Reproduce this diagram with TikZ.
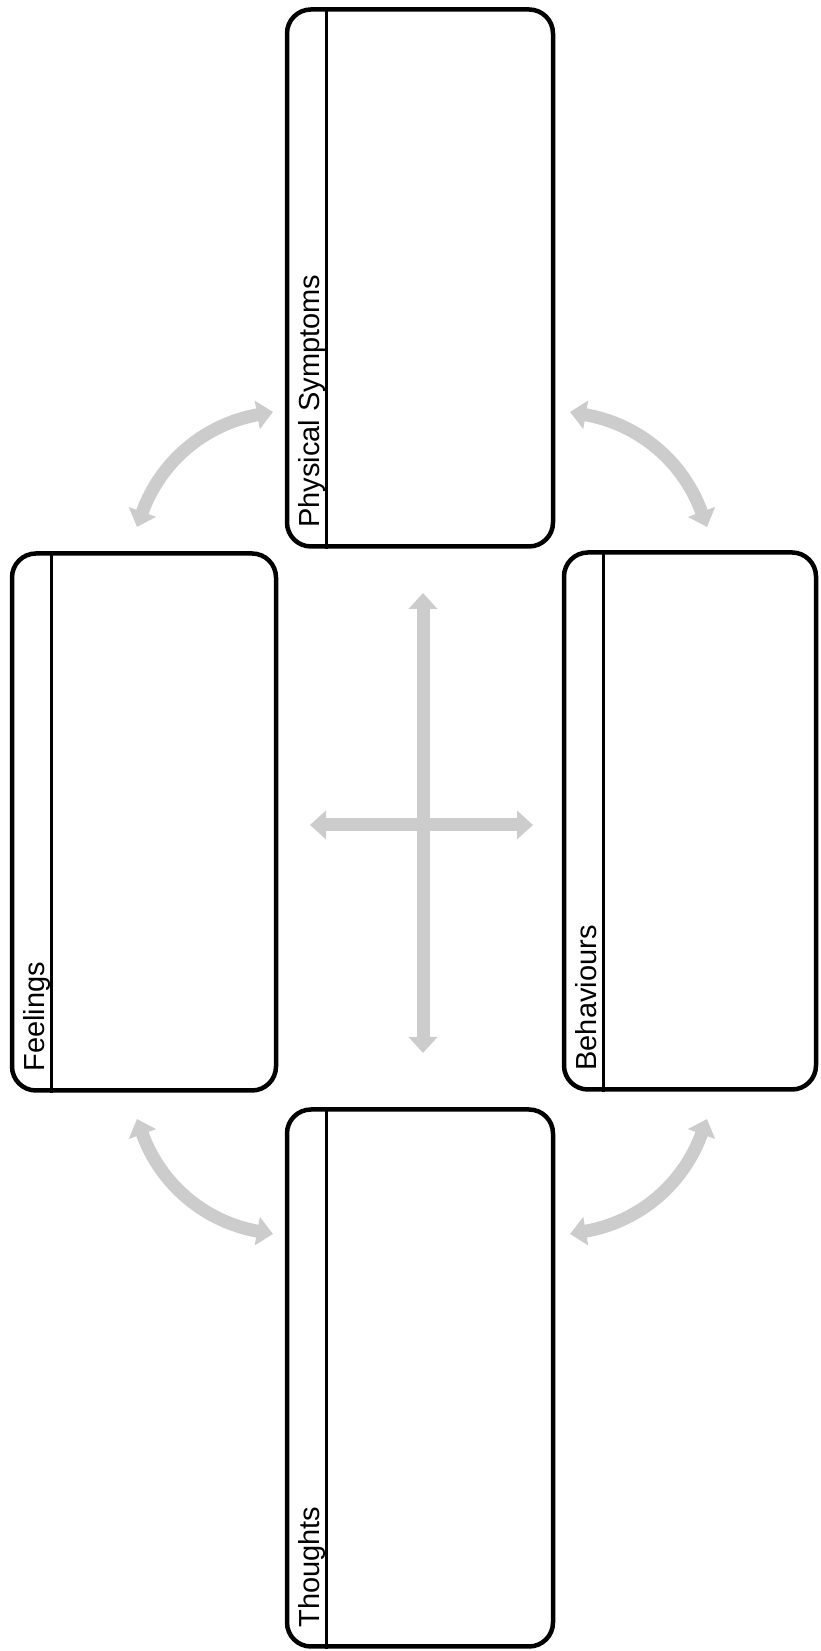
\documentclass[tikz,border=0pt]{standalone}
\usepackage{fontspec}
\setmainfont{Liberation Sans}
\usetikzlibrary{positioning,arrows.meta,calc}

\begin{document}
\begin{tikzpicture}[
  x=1pt, y=1pt,
  card/.style={draw, line width=4.5pt, rounded corners=24pt, minimum width=266pt, minimum height=537pt, inner sep=0pt},
  strip/.style={line width=3pt},
  heading/.style={rotate=90, anchor=base west, inner sep=0pt, font=\fontsize{29}{35}\selectfont},
  flow/.style={draw=gray!40, line width=13pt, {Triangle[width=28pt,length=16pt]}-{Triangle[width=28pt,length=16pt]}}
]
\useasboundingbox (0,0) rectangle (820,1651);

% the four boxes
\node[card] (phys) at (420,1373) {};
\node[card, minimum width=264pt] (feel) at (144,829) {};
\node[card, minimum width=252pt] (behav) at (690,830) {};
\node[card] (thought) at (420,273) {};

% title strips
\foreach \b in {phys,feel,behav,thought}
  \draw[strip] ([xshift=42pt]\b.north west) -- ([xshift=42pt]\b.south west);

\node[heading] (physlbl) at ([xshift=35pt,yshift=21pt]phys.south west) {Physical Symptoms};
\node[heading] (feellbl) at ([xshift=35pt,yshift=21pt]feel.south west) {Feelings};
\node[heading] (behavlbl) at ([xshift=35pt,yshift=21pt]behav.south west) {Behaviours};
\node[heading] (thoughtlbl) at ([xshift=35pt,yshift=21pt]thought.south west) {Thoughts};

% ends of the arrows
\coordinate (tl1) at (137,1124);
\coordinate (tl2) at (273,1239);
\coordinate (tr1) at (570,1239);
\coordinate (tr2) at (707,1124);
\coordinate (br1) at (707,532);
\coordinate (br2) at (570,417);
\coordinate (bl1) at (273,417);
\coordinate (bl2) at (137,532);
\coordinate (vtop) at (423,1058);
\coordinate (vbot) at (423,598);
\coordinate (hleft) at (310,826);
\coordinate (hright) at (533,826);

\draw[flow] (tl1) to[bend left=30] (tl2);
\draw[flow] (tr1) to[bend left=30] (tr2);
\draw[flow] (br1) to[bend left=30] (br2);
\draw[flow] (bl1) to[bend left=30] (bl2);

% the cross in the middle
\draw[flow] (vtop) -- (vbot);
\draw[flow] (hleft) -- (hright);
\end{tikzpicture}
\end{document}
